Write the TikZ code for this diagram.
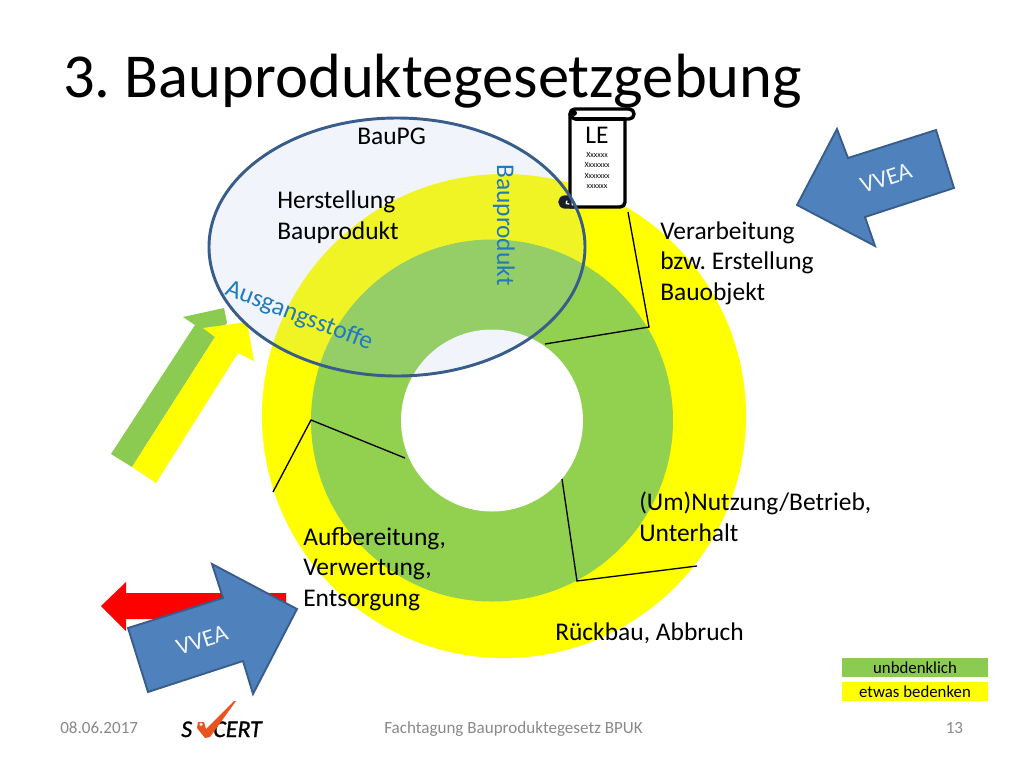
\documentclass[tikz,border=0pt]{standalone}
\usepackage{fontspec}
\setmainfont{Carlito}
\frenchspacing
\definecolor{yel}{HTML}{FFFF00}
\definecolor{grn}{HTML}{92D050}
\definecolor{grnb}{HTML}{8CCB52}
\definecolor{blu}{HTML}{4F81BD}
\definecolor{bluel}{HTML}{385D8A}
\definecolor{ellf}{HTML}{A8C0E0}
\definecolor{txtb}{HTML}{1F7ABF}
\definecolor{gry}{HTML}{898989}
\definecolor{org}{HTML}{E8541E}
\definecolor{redc}{HTML}{FF0000}
\tikzset{
 lbl/.style={font=\fontsize{19.1}{22.9}\selectfont,text=black,anchor=west,align=left,inner sep=0pt},
 foot/.style={font=\fontsize{12.8}{15}\selectfont,text=gry,inner sep=0pt,anchor=base west},
 blab/.style={font=\fontsize{19.1}{22}\selectfont,text=txtb,inner sep=0pt},
 vtxt/.style={font=\fontsize{18}{22}\selectfont,text=white!92!blu,inner sep=0pt},
 legend/.style={minimum width=109.5pt,minimum height=14.25pt,inner sep=0pt,font=\fontsize{12.6}{14}\selectfont,text=black},
 sep/.style={draw=black,line width=1pt,line join=miter},
 varrow/.style={fill=blu,draw=bluel,line width=1.4pt,line join=miter},
 logotxt/.style={inner sep=0pt,anchor=base west,font=\fontsize{18}{20}\itshape\addfontfeature{FakeBold=1.2}},
}
\begin{document}
\begin{tikzpicture}[x=0.75pt,y=-0.75pt]
\useasboundingbox (0,0) rectangle (1024,768);
\fill[white] (0,0) rectangle (1024,768);
\node[anchor=base west,inner sep=0pt,font=\fontsize{46.9}{50}\selectfont] (title) at (63,97) {3. Bauproduktegesetzgebung};
% rings
\fill[yel] (504,416) circle[radius=242];
\fill[grn] (492,420.5) circle[radius=181];
\fill[white] (492,420.5) circle[radius=91];
% separators
\coordinate (a1) at (628,212); \coordinate (a2) at (649,327); \coordinate (a3) at (545,344);
\coordinate (b1) at (273,492); \coordinate (b2) at (311,420); \coordinate (b3) at (405,458);
\coordinate (c1) at (562,479); \coordinate (c2) at (577,581); \coordinate (c3) at (697,566);
\draw[sep] (a1) -- (a2) -- (a3);
\draw[sep] (b1) -- (b2) -- (b3);
\draw[sep] (c1) -- (c2) -- (c3);
% side arrow
\fill[grnb] (111,454) -- (195,325) -- (183,317) -- (224,308) -- (227,323) -- (215,337) -- (132,467) -- cycle;
\fill[yel] (132,467) -- (215,337) -- (203,328) -- (247,322) -- (254,361) -- (238,353) -- (156,483) -- cycle;
% red arrow
\fill[redc] (101,606) -- (126,582) -- (126,593) -- (286,593) -- (286,619) -- (126,619) -- (126,631) -- cycle;
% VVEA arrows
\draw[varrow] (128,628) -- (223,598) -- (212,564) -- (297,609) -- (253,694) -- (243,661) -- (148,692) -- cycle;
\node[vtxt,rotate=18] (v1) at (202,640) {VVEA};
\draw[varrow] (936,130) -- (954,188) -- (865,217) -- (875,246) -- (797,205) -- (837,129) -- (848,158) -- cycle;
\node[vtxt,rotate=18] (v2) at (886,178) {VVEA};
% scroll
\begin{scope}[line width=2.6pt,line join=round,line cap=round]
\draw[fill=black] (560,202) .. controls (560,199) and (562,197) .. (566,197) -- (574,197) -- (574,207) -- (566,207) .. controls (562,207) and (560,205) .. (560,202) -- cycle;
\draw[fill=white] (570,207) -- (570,114) .. controls (570,111) and (572,109) .. (575,109) -- (629,109) .. controls (632,109) and (634,111) .. (634,114) .. controls (634,117) and (632,119) .. (629,119) -- (625,119) -- (625,202) .. controls (625,205) and (623,207) .. (620,207) -- cycle;
\draw (625,119) -- (576,119);
\draw (570,114) .. controls (570,116) and (573,119) .. (576,119);
\fill[black] (574,113) circle[radius=3];
\draw[line width=1pt,white] (567,201) .. controls (565,203) and (567,205) .. (569,204);
\end{scope}
\node[inner sep=0pt,font=\fontsize{19.1}{22}\selectfont] (le) at (597,135) {LE};
\node[inner sep=0pt,align=center,font=\fontsize{6}{7.7}\selectfont] (xs) at (597,170.5) {Xxxxxx\\Xxxxxxx\\Xxxxxxx\\xxxxxx};
% ellipse
\draw[draw=bluel,line width=2.2pt,fill=ellf,fill opacity=0.16] (397,247) ellipse[x radius=188,y radius=129];
% labels
\node[lbl] (baupg) at (357,136) {BauPG};
\node[lbl] (herst) at (277,217) {Herstellung\\Bauprodukt};
\node[lbl] (verarb) at (660,263) {Verarbeitung\\bzw. Erstellung\\Bauobjekt};
\node[lbl] (nutz) at (639,517) {(Um)Nutzung/Betrieb,\\Unterhalt};
\node[lbl] (aufb) at (303,569) {Aufbereitung,\\Verwertung,\\Entsorgung};
\node[lbl] (rueck) at (555,633) {Rückbau, Abbruch};
\node[blab,rotate=-90] (bp) at (504,225) {Bauprodukt};
\node[blab,rotate=-21] (aus) at (299,316) {Ausgangsstoffe};
% legend
\node[legend,fill=grnb] (l1) at (915,667.5) {unbdenklich};
\node[legend,fill=yel] (l2) at (915,691.5) {etwas bedenken};
% footer
\node[foot] (date) at (60,733) {08.06.2017};
\node[foot] (fach) at (384,733) {Fachtagung Bauproduktegesetz BPUK};
\node[foot] (num) at (945.5,733) {13};
% logo
\node[logotxt] (s) at (181,737) {S};
\node[logotxt] (cert) at (213,737) {CERT};
\fill[org] (197,728) -- (198,722) -- (204,722) -- (206,729) -- (234,701) -- (236,701) -- (210,737) -- (205,738) -- cycle;
\fill[white] (199.5,723.6) rectangle (202.5,725) (200.3,722.8) rectangle (201.7,725.8);
\end{tikzpicture}
\end{document}
